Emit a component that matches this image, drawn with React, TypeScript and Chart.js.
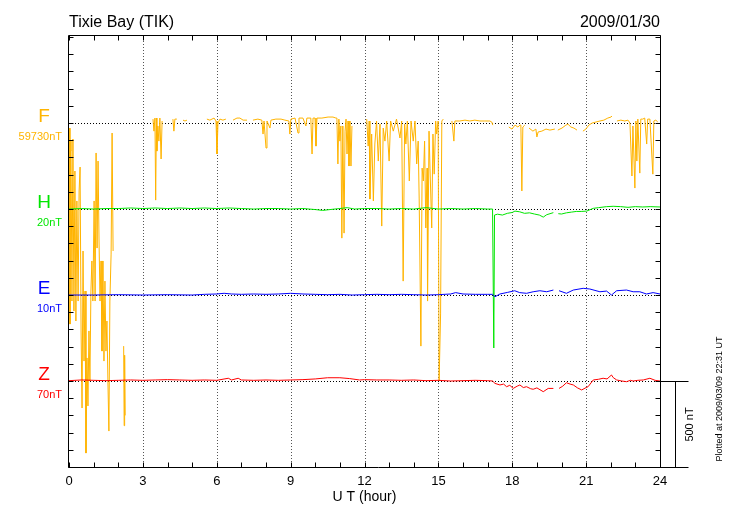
import React, { useEffect, useRef } from "react";
import { Chart, registerables } from "chart.js";
Chart.register(...registerables);

const titleText = "Tixie Bay (TIK)";
const dateText = "2009/01/30";
const plottedText = "Plotted at 2009/03/09 22:31 UT";
const xAxisTitle = "U T (hour)";
const xTickLabels = [0, 3, 6, 9, 12, 15, 18, 21, 24];
const componentNames = ["F", "H", "E", "Z"];
const componentUnits = ["59730nT", "20nT", "10nT", "70nT"];
const componentColors = ["#FFB400", "#00E600", "#0000FF", "#FF0000"];
const componentBaselines = [2000, 1500, 1000, 500];
const yMaxNT = 2512;
const scaleBarNT = 500;
const scaleBarLabel = "500 nT";

// [hour, deviation nT] ; null = data gap
const fPoints: [number, number | null][] = [
  [0.02, -29], [0.04, -1169], [0.06, -163], [0.08, -105], [0.12, -1035], [0.16, -93], [0.2, -1093], [0.24, -279],
  [0.28, -1151], [0.32, -453], [0.37, -1035], [0.41, -395], [0.45, -256], [0.49, -1209], [0.53, -1657], [0.57, -744],
  [0.61, -1384], [0.65, -977], [0.69, -1919], [0.73, -1366], [0.77, -1645], [0.81, -1209], [0.85, -1500], [0.89, -977],
  [0.93, -802], [0.97, -1035], [1.02, -453], [1.06, -1035], [1.1, -174], [1.14, -727], [1.18, -221], [1.22, -686],
  [1.26, -1035], [1.3, -802], [1.34, -1326], [1.38, -802], [1.42, -1384], [1.46, -919], [1.5, -1326], [1.54, -1151],
  [1.58, -1500], [1.62, -1791], [1.66, -1035], [1.71, -762], [1.75, -58], [1.79, -744], [1.8, null],
  [2.22, -1297], [2.24, -1760], [2.26, -1350], [2.28, -1700], [2.3, null],
  [3.41, 23], [3.45, -47], [3.49, 29], [3.52, -448], [3.55, 29], [3.57, -163], [3.61, -17], [3.65, -105], [3.69, 29],
  [3.74, -209], [3.78, 12], [3.8, null],
  [4.22, 23], [4.26, -47], [4.3, 23], [4.38, 23], [4.4, null],
  [4.63, 17], [4.71, 12], [4.79, 17], [4.8, null],
  [5.6, 23], [5.72, 17], [5.89, 29], [5.97, 12], [6.01, -180], [6.05, 0], [6.13, 23], [6.25, 17], [6.37, 23], [6.4, null],
  [6.66, 17], [6.82, 29], [6.94, 29], [7.07, 17], [7.23, 17], [7.25, null],
  [7.47, 17], [7.67, 23], [7.83, 17], [7.88, -64], [7.92, 12], [8.0, -145], [8.04, 12], [8.16, -29], [8.2, 17],
  [8.4, 23], [8.61, 23], [8.77, 17], [8.93, 12], [8.97, -64], [9.01, 23], [9.18, 29], [9.3, -58], [9.34, 29],
  [9.5, 29], [9.62, -17], [9.66, 29], [9.82, 29], [9.87, -180], [9.91, 29], [9.99, 29], [10.03, -134], [10.07, 29],
  [10.27, 29], [10.52, 35], [10.72, 35], [10.84, 29], [10.88, 29], [10.92, -238], [10.96, 23], [11.0, -105],
  [11.04, -17], [11.08, -669], [11.12, -17], [11.17, -640], [11.21, -47], [11.25, 23], [11.29, -180], [11.33, 12],
  [11.37, -250], [11.41, 12], [11.45, -250], [11.49, -17], [11.5, null],
  [12.09, 23], [12.15, -134], [12.19, 12], [12.22, -442], [12.29, -64], [12.36, -453], [12.42, -122], [12.49, 12],
  [12.56, -221], [12.63, -6], [12.7, -599], [12.76, -29], [12.83, -105], [12.9, 12], [13.0, -221], [13.06, 12],
  [13.17, -47], [13.3, 23], [13.44, -87], [13.51, 12], [13.57, -919], [13.63, -6], [13.68, -122], [13.74, 12],
  [13.82, -337], [13.89, 12], [13.98, -105], [14.05, 12], [14.12, -238], [14.18, -105], [14.22, -436], [14.29, -1297],
  [14.34, -262], [14.39, -337], [14.44, -105], [14.49, -610], [14.54, -262], [14.56, -1035], [14.62, -47],
  [14.66, -262], [14.73, -610], [14.78, -64], [14.83, -297], [14.89, 12], [14.93, -64], [14.99, 12], [15.03, -1500],
  [15.09, -1110], [15.14, 12], [15.2, 23], [15.3, null],
  [15.55, 12], [15.63, -105], [15.67, 12], [15.87, 12], [16.08, 17], [16.28, 12], [16.48, 17], [16.69, 12],
  [16.89, 12], [17.09, 12], [17.17, 6], [17.21, -12], [17.3, null],
  [17.86, -23], [17.99, -35], [18.11, -12], [18.23, -23], [18.31, -12], [18.35, -12], [18.39, -395], [18.43, -23],
  [18.51, -12], [18.55, null],
  [18.68, -29], [18.84, -47], [18.96, -35], [19.0, -81], [19.05, -52], [19.2, -47], [19.37, -35], [19.53, -41],
  [19.73, -35], [19.78, null],
  [19.85, -41], [20.02, -29], [20.18, -12], [20.26, -6], [20.38, -23], [20.5, -29], [20.63, -41], [20.7, null],
  [20.87, -47], [20.99, -35], [21.11, -12], [21.24, 0], [21.4, 6], [21.56, 12], [21.72, 17], [21.88, 29],
  [22.01, 35], [22.05, 41], [22.1, null],
  [22.25, 12], [22.41, 17], [22.57, 12], [22.7, 17], [22.78, 0], [22.86, -308], [22.9, -17], [22.98, -378],
  [23.02, 12], [23.06, -221], [23.1, 23], [23.18, -291], [23.22, 23], [23.3, 23], [23.38, 29], [23.46, -122],
  [23.5, 23], [23.59, 23], [23.71, -297], [23.75, 12], [23.83, 17], [23.91, 6],
];

const hPoints: [number, number | null][] = [
  [0, 0], [0.5, 3], [1, 0], [1.5, 3], [2, 3], [2.5, 6], [3, 3], [3.5, 6], [4, 3], [4.5, 6], [5, 3], [5.5, 6],
  [6, 3], [6.5, 6], [7, 3], [7.5, 0], [8, 3], [8.5, 3], [9, 0], [9.5, 3], [10, -3], [10.3, -8], [10.6, -3],
  [11, 3], [11.3, 8], [11.6, 0], [12, 3], [12.5, 3], [13, 0], [13.5, 3], [14, 0], [14.5, 8], [15, 0], [15.5, 3],
  [16, 0], [16.5, 3], [17, 0], [17.2, 0], [17.25, -808], [17.28, -35], [17.4, -30], [17.6, -35], [17.8, -25],
  [18.0, -20], [18.11, -12], [18.3, -16], [18.5, -25], [18.7, -22], [18.9, -29], [19.1, -35], [19.26, -47],
  [19.4, -33], [19.67, -21], [19.75, null],
  [19.87, -27], [20.0, -29], [20.2, -22], [20.4, -18], [20.6, -14], [20.8, -14], [21.02, -12], [21.29, 4],
  [21.5, 8], [21.83, 14], [22.1, 16], [22.4, 14], [22.7, 10], [23, 14], [23.3, 12], [23.6, 14], [24, 12],
];

const ePoints: [number, number | null][] = [
  [0, 0], [1, 0], [2, 2], [3, 0], [4, 2], [5, 0], [5.5, 4], [6, 6], [6.3, 10], [6.6, 6], [7, 4], [7.5, 6],
  [8, 4], [8.5, 6], [9, 10], [9.5, 6], [10, 4], [10.5, 2], [11, 4], [11.5, 0], [12, 2], [12.5, 4], [13, 2],
  [13.5, 4], [14, 2], [14.5, 0], [15, 2], [15.5, 6], [15.7, 14], [16, 6], [16.5, 4], [17, 4], [17.2, 4],
  [17.3, -10], [17.5, 6], [17.8, 15], [18.1, 25], [18.3, 14], [18.58, 10], [18.85, 19], [19.12, 25], [19.4, 19],
  [19.67, 29], [19.75, null],
  [19.9, 25], [20.2, 10], [20.48, 29], [20.88, 39], [21.15, 35], [21.56, 19], [21.83, 23], [22.03, 0],
  [22.24, 25], [22.64, 29], [22.91, 19], [23.18, 19], [23.45, 6], [23.72, 14], [24, 6],
];

const zPoints: [number, number | null][] = [
  [0, 2], [0.5, 6], [1, 4], [1.5, 2], [2, 4], [2.5, 6], [3, 4], [3.5, 6], [4, 8], [4.5, 6], [5, 4], [5.5, 6],
  [6, 4], [6.47, 16], [6.6, 6], [6.87, 16], [7, 6], [7.5, 4], [8, 6], [8.5, 4], [9, 6], [9.5, 8], [10, 12],
  [10.5, 19], [11, 19], [11.4, 14], [11.8, 6], [12, 8], [12.5, 6], [13, 6], [13.5, 4], [14, 6], [14.5, 2],
  [15, 4], [15.5, 0], [16, 2], [16.5, 4], [17, 2], [17.2, 0], [17.3, -14], [17.5, -23], [17.65, -18],
  [17.77, -33], [17.9, -25], [18.04, -43], [18.2, -30], [18.31, -23], [18.45, -38], [18.58, -33], [18.75, -45],
  [18.85, -48], [19.0, -40], [19.26, -62], [19.46, -43], [19.67, -43], [19.75, null],
  [19.9, -43], [20.05, -30], [20.2, -10], [20.35, -18], [20.48, -23], [20.65, -40], [20.82, -52], [21.0, -38],
  [21.08, -33], [21.29, 6], [21.5, 10], [21.69, 16], [21.85, 12], [22.03, 35], [22.1, 20], [22.24, 6],
  [22.45, 0], [22.64, -4], [22.8, 4], [22.91, 0], [23.1, 4], [23.32, 6], [23.59, 16], [23.8, 4], [24, 0],
];

const seriesPoints = [fPoints, hPoints, ePoints, zPoints];
const FONT = '"Liberation Sans", Arial, Helvetica, sans-serif';

const decorPlugin = {
  id: "magDecor",
  beforeDraw(chart: any) {
    const { ctx, width, height } = chart;
    ctx.save();
    ctx.fillStyle = "#ffffff";
    ctx.fillRect(0, 0, width, height);
    ctx.restore();
  },
  beforeDatasetsDraw(chart: any) {
    const { ctx, chartArea, scales } = chart;
    const { left, right, top, bottom } = chartArea;
    const xs = scales.x;
    const ys = scales.y;
    ctx.save();
    ctx.lineWidth = 1;
    ctx.setLineDash([1, 2]);
    ctx.strokeStyle = "#555555";
    xTickLabels.forEach((h) => {
      if (h === 0 || h === 24) return;
      const px = Math.round(xs.getPixelForValue(h)) + 0.5;
      ctx.beginPath();
      ctx.moveTo(px, top);
      ctx.lineTo(px, bottom);
      ctx.stroke();
    });
    ctx.strokeStyle = "#000000";
    componentBaselines.forEach((b) => {
      const py = Math.round(ys.getPixelForValue(b)) + 0.5;
      ctx.beginPath();
      ctx.moveTo(left, py);
      ctx.lineTo(right, py);
      ctx.stroke();
    });
    ctx.restore();
  },
  afterDraw(chart: any) {
    const { ctx, chartArea, scales } = chart;
    const { left, right, top, bottom } = chartArea;
    const xs = scales.x;
    const ys = scales.y;
    ctx.save();
    ctx.setLineDash([]);
    ctx.strokeStyle = "#000000";
    ctx.lineWidth = 1;
    const L = Math.round(left) - 0.5;
    const R = Math.round(right) + 0.5;
    const T = Math.round(top) + 0.5;
    const B = Math.round(bottom) + 0.5;
    ctx.beginPath();
    ctx.moveTo(L, T);
    ctx.lineTo(R, T);
    ctx.lineTo(R, B);
    ctx.moveTo(L, T);
    ctx.lineTo(L, B);
    ctx.stroke();
    // bottom axis line extends under the scale bar
    ctx.beginPath();
    ctx.moveTo(L, B);
    ctx.lineTo(R + 28, B);
    ctx.stroke();

    // minor ticks
    ctx.strokeStyle = "#000000";
    for (let v = 0; v <= yMaxNT; v += 100) {
      const py = Math.round(ys.getPixelForValue(v)) + 0.5;
      ctx.beginPath();
      ctx.moveTo(L, py);
      ctx.lineTo(L + 5, py);
      ctx.moveTo(R, py);
      ctx.lineTo(R - 5, py);
      ctx.stroke();
    }
    for (let h = 0; h <= 24; h += 1) {
      const px = Math.round(xs.getPixelForValue(h)) + 0.5;
      ctx.beginPath();
      ctx.moveTo(px, T);
      ctx.lineTo(px, T + 5);
      ctx.moveTo(px, B);
      ctx.lineTo(px, B - 5);
      ctx.stroke();
    }

    // scale bar
    const zTop = Math.round(ys.getPixelForValue(componentBaselines[3])) + 0.5;
    const zBot = Math.round(ys.getPixelForValue(componentBaselines[3] - scaleBarNT)) + 0.5;
    ctx.beginPath();
    ctx.moveTo(R, zTop);
    ctx.lineTo(R + 28, zTop);
    ctx.moveTo(R + 15, zTop);
    ctx.lineTo(R + 15, zBot);
    ctx.stroke();

    // x tick labels
    ctx.fillStyle = "#000000";
    ctx.font = `13px ${FONT}`;
    ctx.textAlign = "center";
    ctx.textBaseline = "middle";
    xTickLabels.forEach((h) => {
      ctx.fillText(String(h), xs.getPixelForValue(h), bottom + 14);
    });
    ctx.font = `14px ${FONT}`;
    ctx.fillText(xAxisTitle, (left + right) / 2, bottom + 30);

    // titles
    ctx.font = `16px ${FONT}`;
    ctx.textBaseline = "alphabetic";
    ctx.textAlign = "left";
    ctx.fillText(titleText, left, 27);
    ctx.textAlign = "right";
    ctx.fillText(dateText, right, 27);

    // component labels
    componentNames.forEach((name, i) => {
      const py = ys.getPixelForValue(componentBaselines[i]);
      ctx.fillStyle = componentColors[i];
      ctx.textAlign = "center";
      ctx.textBaseline = "middle";
      ctx.font = `19px ${FONT}`;
      ctx.fillText(name, 44, py - 6);
      ctx.textAlign = "right";
      ctx.font = `11px ${FONT}`;
      ctx.fillText(componentUnits[i], 62, py + 14);
    });

    // rotated texts
    ctx.fillStyle = "#000000";
    ctx.save();
    ctx.translate(R + 14 + 15, (zTop + zBot) / 2);
    ctx.rotate(-Math.PI / 2);
    ctx.textAlign = "center";
    ctx.textBaseline = "middle";
    ctx.font = `11px ${FONT}`;
    ctx.fillText(scaleBarLabel, 0, 0);
    ctx.restore();

    ctx.save();
    ctx.translate(720, 399);
    ctx.rotate(-Math.PI / 2);
    ctx.textAlign = "center";
    ctx.textBaseline = "middle";
    ctx.font = `9px ${FONT}`;
    ctx.fillText(plottedText, 0, 0);
    ctx.restore();

    ctx.restore();
  },
};

export default function App() {
  const canvasRef = useRef<HTMLCanvasElement | null>(null);
  useEffect(() => {
    document.body.style.margin = "0";
    const canvas = canvasRef.current;
    if (!canvas) return;
    const datasets = seriesPoints.map((pts, i) => ({
      label: componentNames[i],
      data: pts.map(([h, v]) => ({ x: h, y: v === null ? null : componentBaselines[i] + v })),
      borderColor: componentColors[i],
      backgroundColor: componentColors[i],
      borderWidth: 1,
      pointRadius: 0,
      tension: 0,
      spanGaps: false,
      fill: false,
      order: i === 0 ? 10 : 4 - i,
    }));
    const chart = new Chart(canvas, {
      type: "line",
      data: { datasets } as any,
      options: {
        animation: false,
        responsive: false,
        maintainAspectRatio: false,
        layout: { padding: { left: 69, right: 70, top: 35, bottom: 53 } },
        scales: {
          x: { type: "linear", min: 0, max: 24, display: false },
          y: { type: "linear", min: 0, max: yMaxNT, display: false },
        },
        plugins: { legend: { display: false }, tooltip: { enabled: false } },
        events: [],
      } as any,
      plugins: [decorPlugin],
    });
    return () => chart.destroy();
  }, []);
  return (
    <div style={{ position: "absolute", left: 0, top: 0, width: 730, height: 520 }}>
      <canvas ref={canvasRef} width={730} height={520} style={{ display: "block", width: 730, height: 520 }} />
    </div>
  );
}
